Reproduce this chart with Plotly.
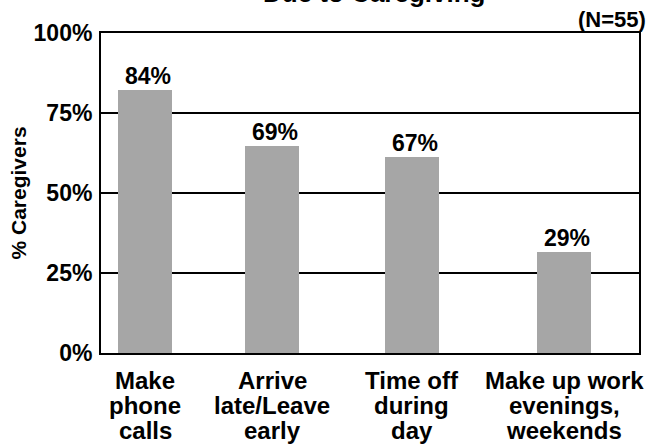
import plotly.graph_objects as go

# ---- data ----
categories = [
    ["Make", "phone", "calls"],
    ["Arrive", "late/Leave", "early"],
    ["Time off", "during", "day"],
    ["Make up work", "evenings,", "weekends"],
]
bar_values = [82.3, 64.8, 61.3, 31.6]          # bar heights as drawn (%)
value_labels = ["84%", "69%", "67%", "29%"]    # printed labels
y_tickvals = [0, 25, 50, 75, 100]
y_ticktext = ["0%", "25%", "50%", "75%", "100%"]
title_text = "Due to Caregiving"
n_text = "(N=55)"
y_title = "% Caregivers"

# ---- layout constants ----
W, H = 652, 447
ML, MR, MT, MB = 101, 13, 33, 94
PLOT_W = W - ML - MR
BAR_CENTERS = [44, 171, 310.5, 463]   # x positions along the axis (px-units)
BAR_WIDTH = 54
FONT = "Liberation Sans, Arial, sans-serif"
BAR_COLOR = "#A6A6A6"

fig = go.Figure()
fig.add_trace(go.Bar(
    x=BAR_CENTERS, y=bar_values, width=[BAR_WIDTH] * len(bar_values),
    marker=dict(color=BAR_COLOR, line=dict(width=0)),
    hoverinfo="skip", showlegend=False,
))

annotations = []
# value labels
for xc, v, lab in zip(BAR_CENTERS, bar_values, value_labels):
    annotations.append(dict(
        x=xc, y=v, xref="x", yref="y", text=lab, showarrow=False,
        xanchor="center", yanchor="bottom", xshift=3, yshift=-1,
        font=dict(family=FONT, size=23, color="black", weight=700),
    ))
# category labels, one line each
for xc, lines in zip(BAR_CENTERS, categories):
    for i, ln in enumerate(lines):
        annotations.append(dict(
            x=xc, y=0, xref="x", yref="paper", text=ln, showarrow=False,
            xanchor="center", yanchor="middle", yshift=-27 - 25 * i,
            font=dict(family=FONT, size=24, color="black", weight=700),
        ))
# y title
annotations.append(dict(
    x=0, y=0.5, xref="paper", yref="paper", text=y_title, showarrow=False,
    xanchor="center", yanchor="middle", xshift=-(ML - 17.5), textangle=-90,
    font=dict(family=FONT, size=21, color="black", weight=700),
))
# N label
annotations.append(dict(
    x=1, y=1, xref="paper", yref="paper", text=n_text, showarrow=False,
    xanchor="right", yanchor="middle", xshift=9, yshift=13.5,
    font=dict(family=FONT, size=22, color="black", weight=700),
))
# title (partly cut off at top, as in the reference)
annotations.append(dict(
    x=0.5, y=1, xref="paper", yref="paper", text=title_text, showarrow=False,
    xanchor="center", yanchor="bottom", xshift=4, yshift=23,
    font=dict(family=FONT, size=26, color="black", weight=700),
))

fig.update_layout(
    width=W, height=H,
    margin=dict(l=ML, r=MR, t=MT, b=MB, pad=0),
    paper_bgcolor="white", plot_bgcolor="white",
    font=dict(family=FONT, color="black"),
    annotations=annotations,
    xaxis=dict(
        range=[0, PLOT_W], showticklabels=False, showgrid=False, zeroline=False,
        showline=True, linecolor="black", linewidth=2, mirror=True, ticks="",
        fixedrange=True,
    ),
    yaxis=dict(
        range=[0, 100], tickvals=y_tickvals, ticktext=y_ticktext,
        showgrid=True, gridcolor="black", gridwidth=1.5, zeroline=False,
        showline=True, linecolor="black", linewidth=2, mirror=True, ticks="",
        ticklabelstandoff=2,
        tickfont=dict(family=FONT, size=23, color="black", weight=700),
        fixedrange=True,
    ),
    bargap=0,
)

fig.write_html("out.html")
